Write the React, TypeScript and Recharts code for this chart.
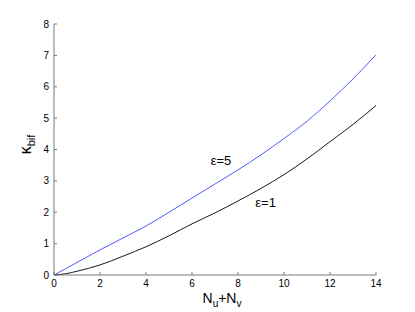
import React from 'react';
import { LineChart, Line, XAxis, YAxis, ReferenceDot, Label } from 'recharts';

const xValues = [0, 0.5, 1, 2, 3, 4, 5, 6, 7, 8, 9, 10, 11, 12, 13, 14];
const eps5 = [0, 0.2, 0.4, 0.8, 1.18, 1.56, 2.0, 2.45, 2.9, 3.35, 3.83, 4.35, 4.9, 5.55, 6.25, 7.02];
const eps1 = [0, 0.04, 0.12, 0.32, 0.6, 0.9, 1.25, 1.63, 1.98, 2.36, 2.76, 3.2, 3.7, 4.25, 4.8, 5.4];
const xTicks = [0, 2, 4, 6, 8, 10, 12, 14];
const yTicks = [0, 1, 2, 3, 4, 5, 6, 7, 8];
const annotations = [
  { x: 7.26, y: 3.66, text: 'ε=5' },
  { x: 9.2, y: 2.3, text: 'ε=1' },
];

const data = xValues.map((x, i) => ({ x, a: eps5[i], b: eps1[i] }));

const FONT = '"Liberation Sans", Arial, Helvetica, sans-serif';
const AXIS = '#7a7a7a';

const XTick = (props: any) => {
  const { x, y, payload } = props;
  return (
    <g>
      <line x1={x} y1={y} x2={x} y2={y - 3} stroke={AXIS} strokeWidth={1} />
      <text x={x} y={y + 12} textAnchor="middle" fontSize={10} fill="#000" fontFamily={FONT}>
        {payload.value}
      </text>
    </g>
  );
};

const YTick = (props: any) => {
  const { x, y, payload } = props;
  return (
    <g>
      <line x1={x} y1={y} x2={x + 3} y2={y} stroke={AXIS} strokeWidth={1} />
      <text x={x - 5} y={y + 3.5} textAnchor="end" fontSize={10} fill="#000" fontFamily={FONT}>
        {payload.value}
      </text>
    </g>
  );
};

const YLabel = (props: any) => {
  const vb = props.viewBox || {};
  const cy = vb.y + vb.height / 2 - 5;
  const cx = 31;
  return (
    <text transform={`translate(${cx},${cy}) rotate(-90)`} fontFamily={FONT} fill="#000" textAnchor="middle">
      <tspan fontSize={16}>κ</tspan>
      <tspan fontSize={11} dy={4}>bif</tspan>
    </text>
  );
};

const XLabel = (props: any) => {
  const vb = props.viewBox || {};
  const cx = vb.x + vb.width / 2 + 7;
  return (
    <text x={cx} y={303} fontFamily={FONT} fill="#000" textAnchor="middle">
      <tspan fontSize={14}>N</tspan>
      <tspan fontSize={10} dy={4}>u</tspan>
      <tspan fontSize={14} dy={-4}>+N</tspan>
      <tspan fontSize={10} dy={4}>v</tspan>
    </text>
  );
};

export default function App() {
  return (
    <div style={{ position: 'absolute', left: 0, top: 0, background: '#fff' }}>
      <LineChart
        width={415}
        height={312}
        data={data}
        margin={{ top: 24, right: 39, bottom: 0, left: 0 }}
      >
        <XAxis
          dataKey="x"
          type="number"
          domain={[0, 14]}
          ticks={xTicks}
          height={37}
          tickSize={0}
          tickMargin={0}
          tickLine={false}
          stroke={AXIS}
          tick={<XTick />}
          interval={0}
        >
          <Label content={<XLabel />} />
        </XAxis>
        <YAxis
          type="number"
          domain={[0, 8]}
          ticks={yTicks}
          width={54}
          tickSize={0}
          tickMargin={0}
          tickLine={false}
          stroke={AXIS}
          tick={<YTick />}
          interval={0}
        >
          <Label content={<YLabel />} />
        </YAxis>
        <Line type="monotone" dataKey="a" stroke="#4d5cff" strokeWidth={1} dot={false} isAnimationActive={false} />
        <Line type="monotone" dataKey="b" stroke="#1a1a1a" strokeWidth={1} dot={false} isAnimationActive={false} />
        {annotations.map((a, i) => (
          <ReferenceDot
            key={i}
            x={a.x}
            y={a.y}
            r={0}
            fill="none"
            stroke="none"
            label={{ value: a.text, position: 'center', fontSize: 13, fill: '#000', fontFamily: FONT }}
          />
        ))}
      </LineChart>
    </div>
  );
}
